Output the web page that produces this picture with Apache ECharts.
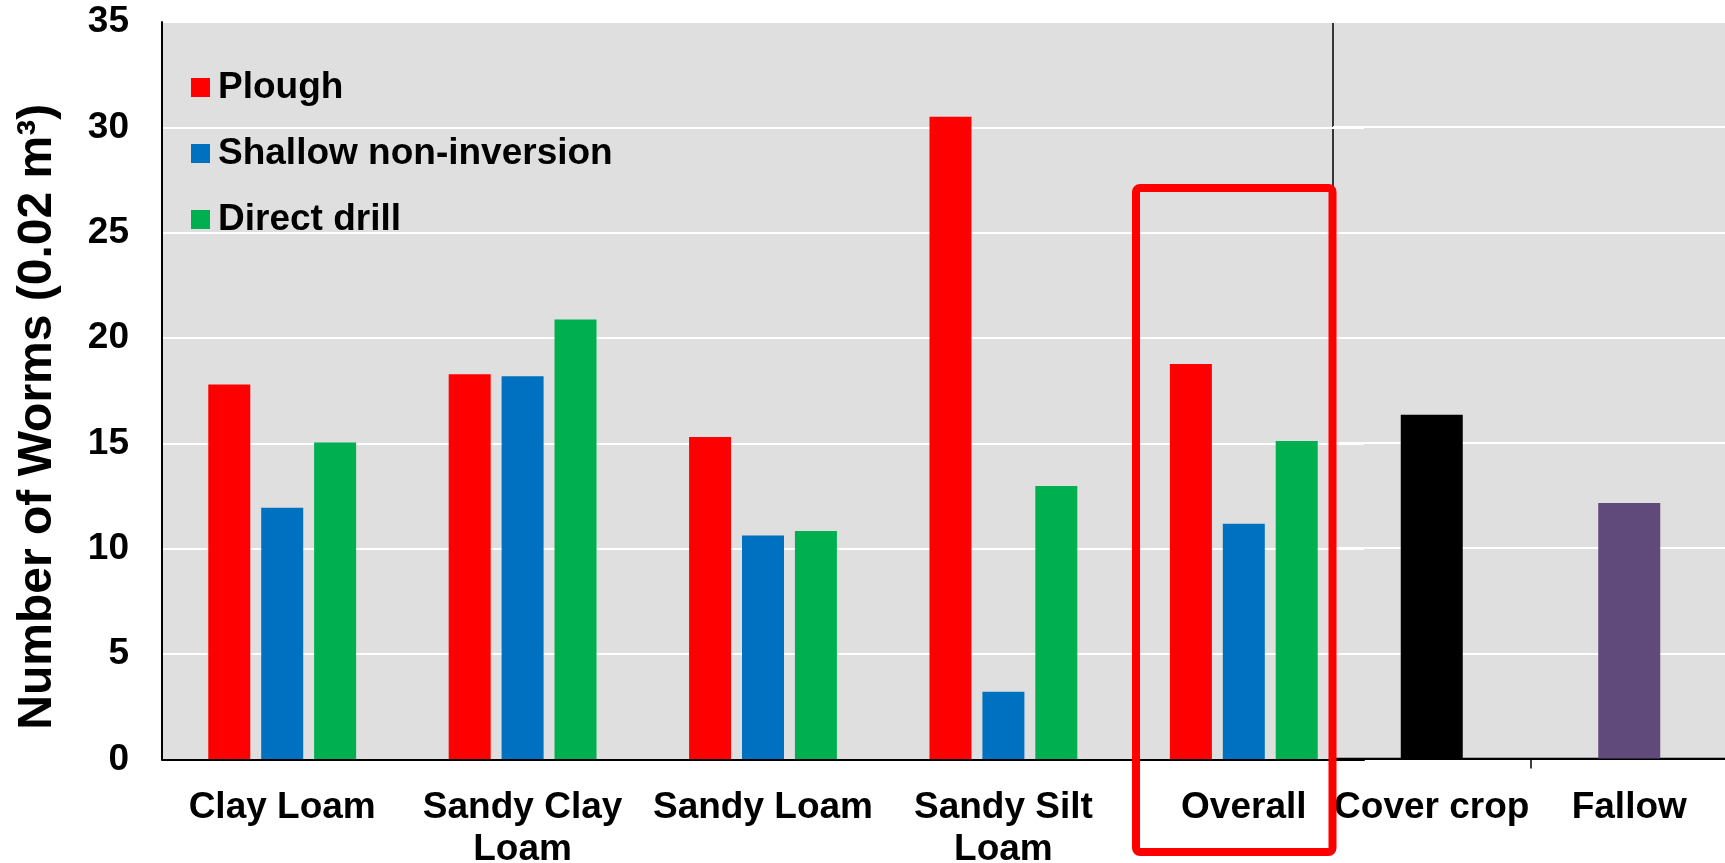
<!DOCTYPE html>
<html>
<head>
<meta charset="utf-8">
<script src="https://cdn.jsdelivr.net/npm/echarts@6/dist/echarts.min.js"></script>
<style>
html,body{margin:0;padding:0;background:#fff;}
#chart{width:1725px;height:863px;}
</style>
</head>
<body>
<div id="chart"></div>
<script>
// ---- data ----
var categories = ['Clay Loam', 'Sandy Clay\nLoam', 'Sandy Loam', 'Sandy Silt\nLoam', 'Overall'];
var seriesNames = ['Plough', 'Shallow non-inversion', 'Direct drill'];
var plough = [17.8, 18.28, 15.3, 30.5, 18.77];
var shallow = [11.95, 18.19, 10.63, 3.22, 11.19];
var directDrill = [15.05, 20.88, 10.84, 12.98, 15.12];
var sideCategories = ['Cover crop', 'Fallow'];
var sideValues = [16.33, 12.14];
var yName = 'Number of Worms (0.02 m\u00B3)';
var yMin = 0, yMax = 35, yInterval = 5;

// ---- styles ----
var FONT = "'Liberation Sans', Arial, sans-serif";
var seriesColors = ['#FF0000', '#0070C0', '#00B050'];
var sideColors = ['#000000', '#604A7B'];
var GRAY = '#DFDFDF';

var chart = echarts.init(document.getElementById('chart'));

var labelStyle = {fontFamily: FONT, fontWeight: 'bold', fontSize: 37, color: '#000'};

var option = {
  backgroundColor: '#fff',
  animation: false,
  textStyle: {fontFamily: FONT},
  legend: {
    data: seriesNames,
    orient: 'vertical',
    left: 186, top: 64,
    itemWidth: 19, itemHeight: 19, itemGap: 29,
    icon: 'rect',
    textStyle: {fontFamily: FONT, fontWeight: 'bold', fontSize: 37, color: '#000', padding: [0, 0, 0, 3]}
  },
  grid: [
    {left: 162, top: 22, right: 361, bottom: 103.5, show: true, backgroundColor: GRAY, borderColor: '#000', borderWidth: 1, outerBoundsMode: 'none', containLabel: false},
    {left: 1333, top: 22, right: -3, bottom: 104.5, show: true, backgroundColor: GRAY, borderColor: '#000', borderWidth: 1.5, outerBoundsMode: 'none', containLabel: false}
  ],
  xAxis: [
    {
      type: 'category', gridIndex: 0, data: categories, z: 3,
      axisLine: {lineStyle: {color: '#000', width: 2}},
      axisTick: {show: false},
      axisLabel: Object.assign({margin: 27, lineHeight: 42, interval: 0}, labelStyle)
    },
    {
      type: 'category', gridIndex: 1, data: sideCategories,
      axisLine: {lineStyle: {color: '#000', width: 2}},
      axisTick: {show: true, length: 10, lineStyle: {color: '#000', width: 1.5}},
      axisLabel: Object.assign({margin: 28, lineHeight: 42, interval: 0}, labelStyle)
    }
  ],
  yAxis: [
    {
      type: 'value', gridIndex: 0, min: yMin, max: yMax, interval: yInterval,
      name: yName, nameLocation: 'middle', nameRotate: 90, nameGap: 100,
      nameTextStyle: {fontFamily: FONT, fontWeight: 'bold', fontSize: 48, color: '#000', padding: [0, 52, 0, 0]},
      axisLine: {show: true, lineStyle: {color: '#000', width: 2}},
      axisTick: {show: false},
      axisLabel: Object.assign({margin: 33}, labelStyle),
      splitLine: {show: true, lineStyle: {color: '#FFFFFF', width: 2}}
    },
    {
      type: 'value', gridIndex: 1, min: yMin, max: yMax, interval: yInterval,
      axisLine: {show: false},
      axisTick: {show: false},
      axisLabel: {show: false},
      splitLine: {show: true, lineStyle: {color: '#FFFFFF', width: 2}}
    }
  ],
  series: [
    {name: seriesNames[0], type: 'bar', xAxisIndex: 0, yAxisIndex: 0, data: plough, barWidth: 42, barGap: '26%', itemStyle: {color: seriesColors[0]}},
    {name: seriesNames[1], type: 'bar', xAxisIndex: 0, yAxisIndex: 0, data: shallow, barWidth: 42, barGap: '26%', itemStyle: {color: seriesColors[1]}},
    {name: seriesNames[2], type: 'bar', xAxisIndex: 0, yAxisIndex: 0, data: directDrill, barWidth: 42, barGap: '26%', itemStyle: {color: seriesColors[2]}},
    {
      name: 'Treatment', type: 'bar', xAxisIndex: 1, yAxisIndex: 1, barWidth: 62,
      data: sideValues.map(function (v, i) { return {value: v, itemStyle: {color: sideColors[i]}}; })
    }
  ],
  graphic: [
    {
      type: 'rect', z: 100,
      shape: {x: 1136, y: 188, width: 196.5, height: 664, r: 4},
      style: {fill: 'none', stroke: '#FF0000', lineWidth: 8}
    }
  ]
};

chart.setOption(option);
</script>
</body>
</html>
